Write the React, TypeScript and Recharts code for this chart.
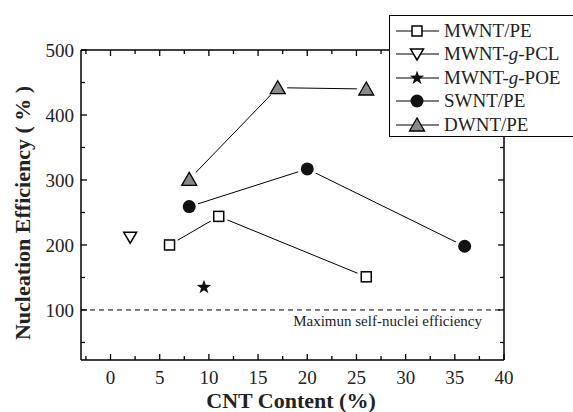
import { ScatterChart, Scatter, XAxis, YAxis, ReferenceLine, Legend } from 'recharts';

const FONT = '"Liberation Serif", "Times New Roman", serif';

// values: CNT content (%) vs nucleation efficiency (%)
const mwntPeX = [6, 11, 26];
const mwntPeY = [200, 244, 151];
const pclX = [2];
const pclY = [212];
const poeX = [9.5];
const poeY = [135];
const swntX = [8, 20, 36];
const swntY = [259, 317, 198];
const dwntX = [8, 17, 26];
const dwntY = [301, 442, 440];

const xTicks = [-2.5, 0, 2.5, 5, 7.5, 10, 12.5, 15, 17.5, 20, 22.5, 25, 27.5, 30, 32.5, 35, 37.5, 40];
const yTicks = [50, 100, 150, 200, 250, 300, 350, 400, 450, 500];

const zip = (xs: number[], ys: number[]) => xs.map((x, i) => ({ x, y: ys[i] }));

type Kind = 'square' | 'down' | 'star' | 'circle' | 'up';

const series: { name: string; kind: Kind; data: { x: number; y: number }[] }[] = [
  { name: 'MWNT/PE', kind: 'square', data: zip(mwntPeX, mwntPeY) },
  { name: 'MWNT-g-PCL', kind: 'down', data: zip(pclX, pclY) },
  { name: 'MWNT-g-POE', kind: 'star', data: zip(poeX, poeY) },
  { name: 'SWNT/PE', kind: 'circle', data: zip(swntX, swntY) },
  { name: 'DWNT/PE', kind: 'up', data: zip(dwntX, dwntY) },
];

function starPoints(cx: number, cy: number, ro: number, ri: number) {
  const pts: string[] = [];
  for (let i = 0; i < 10; i++) {
    const r = i % 2 === 0 ? ro : ri;
    const a = -Math.PI / 2 + (i * Math.PI) / 5;
    pts.push(`${cx + r * Math.cos(a)},${cy + r * Math.sin(a)}`);
  }
  return pts.join(' ');
}

function Marker({ kind, cx, cy, halo = true }: { kind: Kind; cx: number; cy: number; halo?: boolean }) {
  const h = halo ? <circle cx={cx} cy={cy} r={9.5} fill="#fff" /> : null;
  if (kind === 'square') {
    return (
      <g>
        {h}
        <rect x={cx - 5} y={cy - 5} width={10} height={10} fill="#fff" stroke="#000" strokeWidth={1.5} />
      </g>
    );
  }
  if (kind === 'down') {
    return (
      <g>
        {h}
        <polygon points={`${cx - 6.5},${cy - 5} ${cx + 6.5},${cy - 5} ${cx},${cy + 6}`} fill="#fff" stroke="#000" strokeWidth={1.5} />
      </g>
    );
  }
  if (kind === 'star') {
    return <polygon points={starPoints(cx, cy, 7.5, 3)} fill="#111" />;
  }
  if (kind === 'circle') {
    return (
      <g>
        {h}
        <circle cx={cx} cy={cy} r={6.5} fill="#111" />
      </g>
    );
  }
  return (
    <g>
      {h}
      <polygon points={`${cx - 7.5},${cy + 6} ${cx + 7.5},${cy + 6} ${cx},${cy - 7}`} fill="#8a8a8a" stroke="#000" strokeWidth={1.3} />
    </g>
  );
}

const BottomTick = (props: any) => {
  const { x, y, payload } = props;
  const major = payload.value % 5 === 0;
  return (
    <g>
      <line x1={x} y1={y} x2={x} y2={y - (major ? 6 : 4)} stroke="#000" strokeWidth={1.3} />
      {major && (
        <text x={x} y={y + 24} textAnchor="middle" fontFamily={FONT} fontSize={19} fill="#222">
          {payload.value}
        </text>
      )}
    </g>
  );
};

const TopTick = (props: any) => {
  const { x, y, payload } = props;
  const major = payload.value % 5 === 0;
  return <line x1={x} y1={y} x2={x} y2={y + (major ? 6 : 4)} stroke="#000" strokeWidth={1.3} />;
};

const LeftTick = (props: any) => {
  const { x, y, payload } = props;
  const major = payload.value % 100 === 0;
  return (
    <g>
      <line x1={x} y1={y} x2={x + (major ? 6 : 4)} y2={y} stroke="#000" strokeWidth={1.3} />
      {major && (
        <text x={x - 7} y={y} dy="0.35em" textAnchor="end" fontFamily={FONT} fontSize={19} fill="#222">
          {payload.value}
        </text>
      )}
    </g>
  );
};

const RightTick = (props: any) => {
  const { x, y, payload } = props;
  const major = payload.value % 100 === 0;
  return <line x1={x} y1={y} x2={x - (major ? 6 : 4)} y2={y} stroke="#000" strokeWidth={1.3} />;
};

function LegendLabel({ name }: { name: string }) {
  const parts = name.split('-g-');
  if (parts.length === 2) {
    return (
      <span>
        {parts[0]}-<i>g</i>-{parts[1]}
      </span>
    );
  }
  return <span>{name}</span>;
}

function LegendBox() {
  return (
    <div
      style={{
        width: 184,
        height: 122,
        boxSizing: 'border-box',
        border: '1.3px solid #000',
        borderRight: 'none',
        background: '#fff',
        paddingTop: 3,
        fontFamily: FONT,
        fontSize: 19,
        color: '#222',
      }}
    >
      {series.map((s) => (
        <div key={s.name} style={{ display: 'flex', alignItems: 'center', height: 23.5 }}>
          <svg width={54} height={22} style={{ flex: 'none' }}>
            <line x1={6} y1={11} x2={49} y2={11} stroke="#000" strokeWidth={1.2} />
            <Marker kind={s.kind} cx={27} cy={11} halo={false} />
          </svg>
          <LegendLabel name={s.name} />
        </div>
      ))}
    </div>
  );
}

export default function App() {
  return (
    <div style={{ position: 'absolute', left: 0, top: 0, width: 573, height: 412, background: '#fff', fontFamily: FONT }}>
      <ScatterChart width={573} height={412} margin={{ top: 40, right: 59, bottom: 22, left: 21 }}>
        <XAxis
          type="number"
          dataKey="x"
          domain={[-3, 40]}
          ticks={xTicks}
          interval={0}
          height={30}
          tickSize={0}
          tickMargin={0}
          tickLine={false}
          tick={<BottomTick />}
          axisLine={{ stroke: '#000', strokeWidth: 1.5 }}
          allowDataOverflow
        />
        <XAxis
          xAxisId="top"
          orientation="top"
          type="number"
          dataKey="x"
          domain={[-3, 40]}
          ticks={xTicks}
          interval={0}
          height={10}
          tickSize={0}
          tickMargin={0}
          tickLine={false}
          tick={<TopTick />}
          axisLine={{ stroke: '#000', strokeWidth: 1.5 }}
          allowDataOverflow
        />
        <YAxis
          type="number"
          dataKey="y"
          domain={[23, 500]}
          ticks={yTicks}
          interval={0}
          width={60}
          tickSize={0}
          tickMargin={0}
          tickLine={false}
          tick={<LeftTick />}
          axisLine={{ stroke: '#000', strokeWidth: 1.5 }}
          allowDataOverflow
        />
        <YAxis
          yAxisId="right"
          orientation="right"
          type="number"
          dataKey="y"
          domain={[23, 500]}
          ticks={yTicks}
          interval={0}
          width={10}
          tickSize={0}
          tickMargin={0}
          tickLine={false}
          tick={<RightTick />}
          axisLine={{ stroke: '#000', strokeWidth: 1.5 }}
          allowDataOverflow
        />
        <ReferenceLine
          y={100}
          stroke="#000"
          strokeWidth={1}
          strokeDasharray="5 4"
          label={(p: any) => (
            <text
              x={p.viewBox.x + p.viewBox.width - 22}
              y={p.viewBox.y + 16}
              textAnchor="end"
              fontFamily={FONT}
              fontSize={15}
              fill="#222"
            >
              Maximun self-nuclei efficiency
            </text>
          )}
        />
        {series.map((s) => (
          <Scatter
            key={s.name}
            name={s.name}
            data={s.data}
            line={s.data.length > 1 ? { stroke: '#000', strokeWidth: 1 } : false}
            lineType="joint"
            isAnimationActive={false}
            shape={(p: any) => <Marker kind={s.kind} cx={p.cx} cy={p.cy} />}
          />
        ))}
        <Legend
          layout="vertical"
          align="center"
          verticalAlign="middle"
          wrapperStyle={{ left: 389, top: 15, width: 184, height: 122 }}
          content={() => <LegendBox />}
        />
        <text x={291} y={408} textAnchor="middle" fontFamily={FONT} fontWeight="bold" fontSize={22} fill="#222">
          CNT Content (%)
        </text>
        <text
          x={22}
          y={213}
          transform="rotate(-90 22 213)"
          dy="0.35em"
          textAnchor="middle"
          fontFamily={FONT}
          fontWeight="bold"
          fontSize={22}
          fill="#222"
        >
          Nucleation Efficiency ( % )
        </text>
      </ScatterChart>
    </div>
  );
}
